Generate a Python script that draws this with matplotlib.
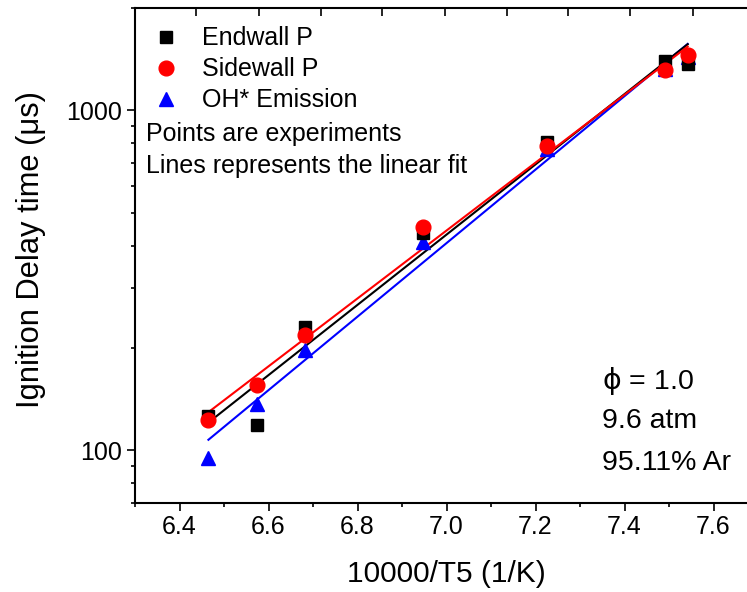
import numpy as np
import matplotlib
matplotlib.use("Agg")
import matplotlib.pyplot as plt

plt.rcParams["font.family"] = ["Liberation Sans", "DejaVu Sans"]

# Experimental data (10000/T5 vs ignition delay, us)
inv_t = [6.465, 6.575, 6.681, 6.948, 7.225, 7.490, 7.542]
endwall = [126, 119, 230, 435, 805, 1400, 1370]
sidewall = [123, 156, 218, 453, 784, 1311, 1451]
oh_emission = [95, 137, 197, 409, 770, 1320, 1440]

# tick positions of the unlabelled top axis
top_ticks = [6.438, 6.578, 6.717, 6.856, 6.996, 7.135, 7.274, 7.413, 7.553]

fig = plt.figure(figsize=(7.47, 5.92), dpi=100)
ax = fig.add_axes([135 / 747, 89 / 592, 623 / 747, 495 / 592])

x = np.array(inv_t)
xfit = np.array([x.min(), x.max()])

series = [
    (oh_emission, "blue", "^", 9.5, "OH* Emission"),
    (endwall, "black", "s", 9.2, "Endwall P"),
    (sidewall, "red", "o", 10.6, "Sidewall P"),
]
handles = {}
for vals, col, mk, ms, lab in series:
    # linear fit of log10(tau) against 10000/T5
    k, b = np.polyfit(x, np.log10(vals), 1)
    ax.plot(xfit, 10 ** (k * xfit + b), color=col, lw=1.5, zorder=2)
    h, = ax.plot(x, vals, linestyle="none", marker=mk, markersize=ms,
                 color=col, label=lab, zorder=3)
    handles[lab] = h

ax.set_yscale("log")
ax.set_xlim(6.3, 7.7)
ax.set_ylim(70, 2000)
ax.set_xticks([6.4, 6.6, 6.8, 7.0, 7.2, 7.4, 7.6])
ax.set_xticks(np.arange(6.3, 7.71, 0.1), minor=True)
ax.set_xticklabels(["6.4", "6.6", "6.8", "7.0", "7.2", "7.4", "7.6"])
ax.set_yticks([100, 1000])
ax.set_yticklabels(["100", "1000"])
ax.tick_params(axis="both", which="major", direction="out", length=6,
               width=1.2, labelsize=18, pad=3)
ax.tick_params(axis="both", which="minor", direction="out", length=3, width=1.2)
ax.tick_params(axis="y", which="minor", labelleft=False)
for s in ["left", "bottom"]:
    ax.spines[s].set_linewidth(1.5)
ax.spines["top"].set_visible(False)
ax.spines["right"].set_visible(False)

top = ax.secondary_xaxis("top")
top.set_xticks(top_ticks)
top.set_xticklabels([])
top.tick_params(direction="in", length=6, width=1.2)
top.spines["top"].set_linewidth(1.5)

ax.set_xlabel("10000/T5 (1/K)", fontsize=21.5, labelpad=15)
ax.set_ylabel("Ignition Delay time (μs)", fontsize=22.2, labelpad=15)
ax.yaxis.label.set_y(0.512)

ax.legend([handles["Endwall P"], handles["Sidewall P"], handles["OH* Emission"]],
          ["Endwall P", "Sidewall P", "OH* Emission"],
          loc="upper left", bbox_to_anchor=(0.03, 0.963), frameon=False,
          fontsize=18, handlelength=1.0, handletextpad=0.95, labelspacing=0.28,
          borderpad=0, borderaxespad=0)

ax.text(0.018, 0.745, "Points are experiments", transform=ax.transAxes,
        fontsize=18, va="center")
ax.text(0.018, 0.681, "Lines represents the linear fit", transform=ax.transAxes,
        fontsize=18, va="center")

ax.text(0.75, 0.246, r"$\mathrm{\phi}$ = 1.0", transform=ax.transAxes, fontsize=20.5, va="center")
ax.text(0.75, 0.166, "9.6 atm", transform=ax.transAxes, fontsize=20.5, va="center")
ax.text(0.75, 0.081, "95.11% Ar", transform=ax.transAxes, fontsize=20.5, va="center")

fig.savefig("out.png", dpi=100)
